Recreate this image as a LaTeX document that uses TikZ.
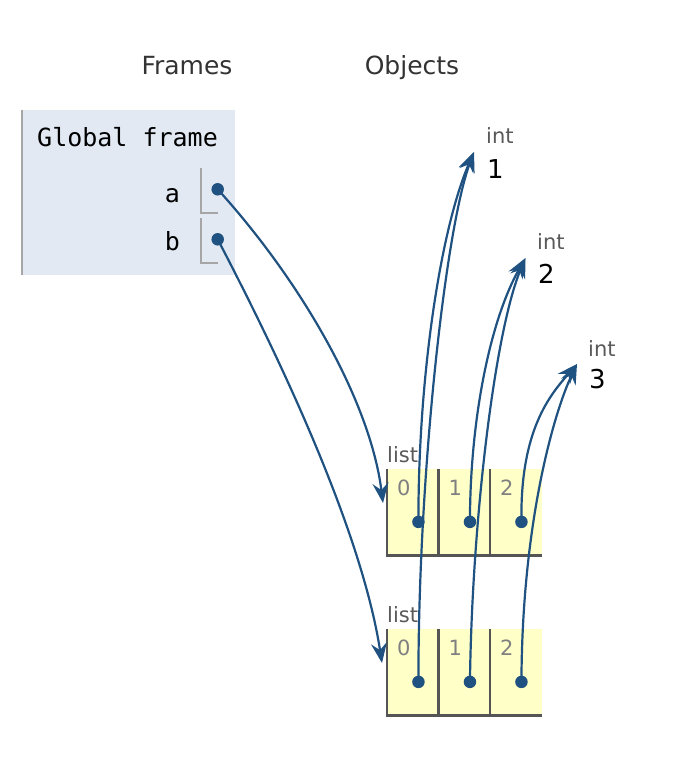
\documentclass[tikz,border=0pt]{standalone}
\usepackage{fontspec}
\setmainfont{DejaVu Sans}
\setmonofont{DejaVu Sans Mono}
\usetikzlibrary{arrows.meta,positioning}
\definecolor{ptr}{HTML}{1F5280}
\definecolor{framebg}{HTML}{E2E9F3}
\definecolor{listbg}{HTML}{FFFFC8}
\definecolor{edge}{HTML}{555555}

\begin{document}
\begin{tikzpicture}[x=1pt,y=-1pt,
  hd/.style={font=\fontsize{25}{30}\selectfont,text=black!80,anchor=base,inner sep=0pt},
  mono/.style={font=\fontsize{25}{30}\selectfont\ttfamily,inner sep=0pt},
  tag/.style={font=\fontsize{21}{25}\selectfont,text=black!65,anchor=base west,inner sep=0pt},
  val/.style={font=\fontsize{26}{30}\selectfont,anchor=base west,inner sep=0pt},
  idx/.style={font=\fontsize{21}{25}\selectfont,text=black!50,anchor=north west,inner sep=0pt},
  dotp/.style={circle,fill=ptr,inner sep=0pt,minimum size=12.5pt},
  ref/.style={draw=ptr,line width=2.2pt,-{Stealth[length=20pt,width=16pt,inset=7pt]}},
  cell/.style={fill=listbg,minimum width=51.5pt,minimum height=86pt,inner sep=0pt,anchor=north west},
  brd/.style={draw=edge,line width=2.8pt},
  slot/.style={draw=black!35,line width=2pt}]
\useasboundingbox (0,0) rectangle (676,758);
% headers
\node[hd] (frm) at (187,74) {Frames};
\node[hd] (obj) at (412,74) {Objects};
% global frame
\node[fill=framebg,minimum width=213pt,minimum height=165pt,inner sep=0pt,anchor=north west] (gf) at (22,110) {};
\draw[slot] (gf.north west)--(gf.south west);
\node[mono,anchor=base west] (gft) at (37,146) {Global frame};
\node[mono,anchor=base east] (na) at (180,202) {a};
\node[mono,anchor=base east] (nb) at (180,250) {b};
\node[dotp] (pa) at (217.7,189.3) {};
\node[dotp] (pb) at (217.7,239.3) {};
\foreach \p in {pa,pb}
  \draw[slot] ([shift={(-16.5pt,21pt)}]\p.center)--([shift={(-16.5pt,-24pt)}]\p.center)--([shift={(0.5pt,-24pt)}]\p.center);
% int objects
\foreach \i in {1,2,3} {
  \node[tag] (int\i) at ({486+51*(\i-1)},{143+106.5*(\i-1)}) {int};
  \node[val] (v\i) at ({487+51*(\i-1)},{178+105*(\i-1)}) {\i};
  \coordinate (t\i) at ({474+51.5*(\i-1)},{152+106*(\i-1)});
}
% two lists
\foreach \l/\y in {A/469,B/629} {
  \node[tag] (ls\l) at (387,\y-7) {list};
  \foreach \k in {0,1,2} {
    \node[cell] (c\l\k) at ({387+51.5*\k},\y) {};
    \draw[brd] (c\l\k.north west)--(c\l\k.south west)--(c\l\k.south east);
    \node[idx] (i\l\k) at ([shift={(10pt,-11pt)}]c\l\k.north west) {\k};
    \node[dotp] (\l\k) at ([shift={(5.5pt,-9.7pt)}]c\l\k.center) {};
  }
}
\coordinate (inA) at (383,503);
\coordinate (inB) at (382,663);
% references
\draw[ref] (pa.center) .. controls (300,280) and (370,400) .. (inA);
\draw[ref] (pb.center) .. controls (265,330) and (360,520) .. (inB);
\draw[ref] (A0.center) .. controls (418,380) and (440,230) .. (t1);
\draw[ref] (B0.center) .. controls (418,480) and (445,230) .. (t1);
\draw[ref] (A1.center) .. controls (470,420) and (490,320) .. (t2);
\draw[ref] (B1.center) .. controls (472,520) and (495,330) .. (t2);
\draw[ref] (A2.center) .. controls (520,430) and (550,395) .. (t3);
\draw[ref] (B2.center) .. controls (522,520) and (555,410) .. (t3);
\end{tikzpicture}
\end{document}
